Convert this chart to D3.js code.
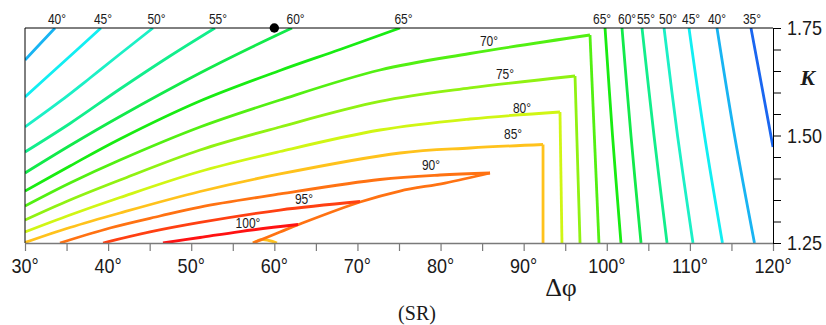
<!DOCTYPE html>
<html>
<head>
<meta charset="utf-8">
<script src="https://cdn.jsdelivr.net/npm/d3@7"></script>
<style>
  html, body { margin: 0; padding: 0; background: #fff; }
  svg { display: block; }
</style>
</head>
<body>
<svg id="chart" width="826" height="325"></svg>
<script>
// Axis ticks
const phiTicks = [30, 35, 40, 45, 50, 55, 60, 65, 70, 75, 80, 85, 90, 95, 100, 105, 110, 115, 120];
const kTicks = [1.25, 1.30, 1.35, 1.40, 1.45, 1.50, 1.55, 1.60, 1.65, 1.70, 1.75];
const kLabelled = [1.25, 1.50, 1.75];

// Contour lines, points are [Δφ (deg), K]
const iso40 = [[30, 1.6756], [31.80, 1.7128], [33.61, 1.75]];
const iso45 = [[30, 1.5895], [34.57, 1.6698], [39.14, 1.75]];
const iso50 = [[30, 1.5198], [34.21, 1.5791], [37.82, 1.6337], [41.43, 1.6895], [45.40, 1.75]];
const iso55 = [[30, 1.4616], [35.41, 1.5279], [41.43, 1.6081], [47.45, 1.6849], [52.86, 1.75]];
const iso60 = [[30, 1.4128], [35.41, 1.4767], [41.43, 1.5442], [51.06, 1.6453], [57.07, 1.7035], [62.13, 1.75]];
const iso65 = [[30, 1.3709], [35.41, 1.4291], [41.43, 1.4919], [51.06, 1.5802], [60.68, 1.6512], [67.90, 1.70], [75.12, 1.75]];
const iso70 = [[30, 1.3360], [35.41, 1.3895], [41.43, 1.4430], [51.06, 1.5198], [60.68, 1.5826], [72.71, 1.6523], [83.54, 1.6907], [97.98, 1.7337]];
const iso70Edge = [[97.98, 1.7337], [99.06, 1.25]];
const iso75 = [[30, 1.3035], [35.41, 1.35], [41.43, 1.3965], [51.06, 1.4663], [60.68, 1.5198], [72.71, 1.5791], [83.54, 1.6105], [96.18, 1.6384]];
const iso75Edge = [[96.18, 1.6384], [96.78, 1.25]];
const iso80 = [[30, 1.2756], [35.41, 1.3151], [41.43, 1.3558], [51.06, 1.4163], [60.68, 1.4628], [72.71, 1.5128], [83.54, 1.5384], [94.37, 1.5547]];
const iso80Edge = [[94.37, 1.5547], [94.61, 1.25]];
const iso85 = [[30, 1.2512], [35.41, 1.2860], [41.43, 1.3198], [51.06, 1.3698], [60.68, 1.4105], [75.12, 1.4593], [83.54, 1.4709], [92.33, 1.4791]];
const iso85Edge = [[92.33, 1.4791], [92.33, 1.25]];
const iso85Cap = [[57.43, 1.25], [58.58, 1.2581], [60.32, 1.25]];
const iso90Upper = [[34.21, 1.25], [40.23, 1.2849], [46.24, 1.3128], [51.06, 1.3337], [60.68, 1.3640], [72.71, 1.3977], [79.93, 1.4081], [85.95, 1.4128]];
const iso90Lower = [[85.95, 1.4128], [80.53, 1.3895], [75.12, 1.3709], [70.31, 1.3453], [63.09, 1.2942], [60.68, 1.2756], [57.43, 1.25]];
const iso95 = [[39.39, 1.25], [45.04, 1.2756], [51.06, 1.2977], [60.68, 1.3267], [70.31, 1.3465]];
const iso100 = [[46.60, 1.25], [51.06, 1.2628], [55.87, 1.2767], [62.85, 1.2930]];
const iso65R = [[99.79, 1.75], [100.69, 1.5], [101.71, 1.25]];
const iso60R = [[101.83, 1.75], [102.91, 1.5], [104.12, 1.25]];
const iso55R = [[104.24, 1.75], [105.68, 1.5], [107.25, 1.25]];
const iso50R = [[106.89, 1.75], [108.51, 1.5], [110.37, 1.25]];
const iso45R = [[109.89, 1.75], [111.76, 1.5], [113.92, 1.25]];
const iso40R = [[113.26, 1.75], [115.37, 1.5], [117.77, 1.25]];
const iso35R = [[117.35, 1.75], [118.68, 1.6116], [120, 1.4733]];

// Level of each contour and the pieces that make it up
const contourSet = [
  [40, [iso40]], [45, [iso45]], [50, [iso50]], [55, [iso55]], [60, [iso60]], [65, [iso65]],
  [70, [iso70, iso70Edge]], [75, [iso75, iso75Edge]], [80, [iso80, iso80Edge]],
  [85, [iso85, iso85Edge, iso85Cap]], [90, [iso90Upper, iso90Lower]], [95, [iso95]], [100, [iso100]],
  [65, [iso65R]], [60, [iso60R]], [55, [iso55R]], [50, [iso50R]], [45, [iso45R]], [40, [iso40R]], [35, [iso35R]]
];

// Level labels: along the top edge [level, Δφ], inside the plot [level, Δφ, K]
const topLabels = [[40, 33.85], [45, 39.38], [50, 45.82], [55, 53.22], [60, 62.55], [65, 75.54],
  [65, 99.43], [60, 102.44], [55, 104.72], [50, 107.37], [45, 110.14], [40, 113.26], [35, 117.47]];
const innerLabels = [[70, 85.83, 1.7209], [75, 87.75, 1.6442], [80, 89.80, 1.5651], [85, 88.72, 1.5047],
  [90, 78.85, 1.4314], [95, 63.57, 1.3523], [100, 56.83, 1.2977]];

// Marked point
const marker = [60, 1.75];

const svg = d3.select("#chart");
const x = d3.scaleLinear().domain([30, 120]).range([25, 773]);
const y = d3.scaleLinear().domain([1.25, 1.75]).range([243, 28]);

const color = d3.scaleOrdinal()
  .domain([35, 40, 45, 50, 55, 60, 65, 70, 75, 80, 85, 90, 95, 100])
  .range(["#1a66f0", "#18b4f2", "#12eef2", "#1cf0c6", "#12ee8c", "#12ea4a", "#18ec12",
          "#52f012", "#90f212", "#d0f614", "#ffc21c", "#ff7212", "#ff4012", "#ff1212"]);

const SANS = "'Liberation Sans', Arial, sans-serif";
const SERIF = "'Liberation Serif', 'Times New Roman', serif";

function label(parent, cx, by, str, size, sx, anchor, family, extra) {
  const t = parent.append("text")
    .attr("transform", `translate(${cx},${by}) scale(${sx},1)`)
    .attr("text-anchor", anchor)
    .attr("font-family", family)
    .attr("font-size", size)
    .attr("fill", "#1a1a1a")
    .text(str);
  if (extra) extra(t);
  return t;
}

svg.append("defs").append("clipPath").attr("id", "plotArea")
  .append("rect")
  .attr("x", x(30)).attr("y", y(1.75))
  .attr("width", x(120) - x(30)).attr("height", y(1.25) - y(1.75));

// Contour lines
const line = d3.line()
  .x(d => x(d[0])).y(d => y(d[1]))
  .curve(d3.curveCatmullRom.alpha(0.5));

const gLines = svg.append("g").attr("clip-path", "url(#plotArea)");
contourSet.forEach(([level, pieces]) => {
  pieces.forEach(pts => {
    gLines.append("path")
      .attr("d", line(pts))
      .attr("fill", "none")
      .attr("stroke", color(level))
      .attr("stroke-width", 2.8)
      .attr("stroke-linejoin", "miter");
  });
});

// Frame: top and left edges
svg.append("line").attr("x1", x(30)).attr("x2", x(120)).attr("y1", y(1.75)).attr("y2", y(1.75))
  .attr("stroke", "#000").attr("stroke-width", 1);
svg.append("line").attr("x1", x(30)).attr("x2", x(30)).attr("y1", y(1.75)).attr("y2", y(1.25))
  .attr("stroke", "#000").attr("stroke-width", 1);

// Bottom axis (Δφ)
const xAxis = d3.axisBottom(x).tickValues(phiTicks).tickSize(8).tickSizeOuter(0).tickFormat(() => "");
const gx = svg.append("g").attr("transform", `translate(0,${y(1.25)})`).call(xAxis);
gx.select(".domain").attr("stroke", "#7a7a7a").attr("stroke-width", 1.6);
gx.selectAll(".tick line").attr("stroke", "#7a7a7a").attr("stroke-width", 1.2);
phiTicks.filter(v => v % 10 === 0).forEach(v => {
  label(svg, x(v), 273, v + "°", 20, 0.9, "middle", SANS);
});

// Right axis (K)
const yAxis = d3.axisRight(y).tickValues(kTicks).tickSize(8).tickSizeOuter(0).tickFormat(() => "");
const gy = svg.append("g").attr("transform", `translate(${x(120)},0)`).call(yAxis);
gy.select(".domain").attr("stroke", "#000").attr("stroke-width", 1);
gy.selectAll(".tick line").attr("stroke", "#000").attr("stroke-width", 1);
kLabelled.forEach(v => {
  label(svg, x(120) + 14, y(v) + 7, d3.format(".2f")(v), 20, 0.9, "start", SANS);
});

// Axis titles
label(svg, 807.5, 85, "K", 22, 1, "middle", SERIF, t => t.attr("font-style", "italic").attr("font-weight", "bold"));
label(svg, 561, 296, "Δφ", 26, 1, "middle", SERIF);
label(svg, 417, 320, "(SR)", 20, 1, "middle", SERIF);

// Level labels
topLabels.forEach(([lv, phi]) => {
  label(svg, x(phi), 24, lv + "°", 15, 0.8, "middle", SANS);
});
innerLabels.forEach(([lv, phi, k]) => {
  label(svg, x(phi), y(k) + 5.3, lv + "°", 15, 0.8, "middle", SANS);
});

// Marked point on the top edge
svg.append("circle").attr("cx", x(marker[0])).attr("cy", y(marker[1])).attr("r", 4.7).attr("fill", "#000");
</script>
</body>
</html>
